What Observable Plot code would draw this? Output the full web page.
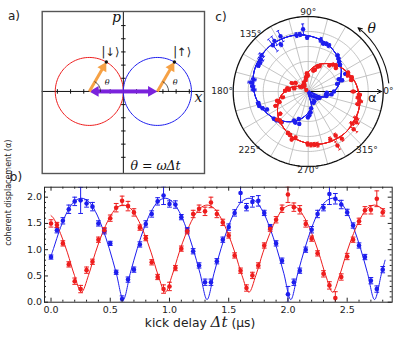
<!DOCTYPE html>
<html><head><meta charset="utf-8">
<script src="https://cdn.jsdelivr.net/npm/d3@7"></script>
<script src="https://cdn.jsdelivr.net/npm/@observablehq/plot@0.6"></script>
<style>
body{margin:0;background:#fff;}
#fig{position:relative;width:398px;height:341px;overflow:hidden;background:#fff;}
</style></head><body><div id="fig"></div>
<script>
// ---------- colours ----------
const RED = "#ee1d1d", BLUE = "#1d1dee", PURPLE = "#7a22dc", ORANGE = "#f6a145";

// ---------- panel b data ----------
const times = [0,0.05,0.1,0.15,0.2,0.25,0.3,0.35,0.4,0.45,0.5,0.55,0.6,0.65,0.7,0.75,0.8,0.85,0.9,0.95,1.0,1.05,1.1,1.15,1.2,1.25,1.3,1.35,1.4,1.45,1.5,1.55,1.6,1.65,1.7,1.75,1.8,1.85,1.9,1.95,2.0,2.05,2.1,2.15,2.2,2.25,2.3,2.35,2.4,2.45,2.5,2.55,2.6,2.65,2.7,2.75,2.8];
const blueVals = [0.86,1.37,1.55,1.77,1.92,1.94,1.88,1.82,1.50,1.35,1.12,0.57,0.06,0.43,0.62,1.10,1.49,1.68,1.92,2.03,1.87,1.86,1.62,1.37,0.97,0.70,0.38,0.38,0.78,1.19,1.43,1.70,2.08,1.81,1.91,1.93,1.70,1.43,1.12,0.79,0.15,0.38,0.60,1.00,1.38,1.68,1.80,2.06,1.97,1.86,1.71,1.46,1.08,0.86,0.41,0.25,0.62];
const blueErr  = [0.04,0.05,0.06,0.08,0.08,0.25,0.07,0.08,0.05,0.05,0.04,0.04,0.06,0.05,0.05,0.05,0.06,0.06,0.07,0.17,0.06,0.07,0.05,0.05,0.05,0.05,0.06,0.06,0.05,0.05,0.06,0.06,0.18,0.07,0.10,0.10,0.05,0.05,0.05,0.05,0.15,0.06,0.05,0.05,0.06,0.07,0.06,0.20,0.10,0.08,0.06,0.05,0.05,0.05,0.06,0.06,0.06];
const redVals  = [1.50,1.47,1.12,0.72,0.40,0.25,0.61,0.77,1.19,1.37,1.60,1.80,1.93,1.83,1.71,1.42,1.22,0.76,0.48,0.25,0.30,0.65,1.02,1.35,1.68,1.78,1.73,1.90,1.68,1.52,1.27,0.89,0.60,0.27,0.51,0.70,1.08,1.40,1.57,1.78,2.05,1.81,1.76,1.49,1.21,0.93,0.54,0.32,0.08,0.48,0.87,1.19,1.54,1.75,1.76,1.97,1.71];
const redErr   = [0.07,0.05,0.05,0.05,0.06,0.07,0.06,0.05,0.05,0.05,0.06,0.08,0.09,0.09,0.07,0.05,0.05,0.05,0.05,0.08,0.08,0.05,0.05,0.05,0.07,0.07,0.08,0.10,0.07,0.06,0.05,0.05,0.05,0.06,0.06,0.05,0.05,0.05,0.06,0.07,0.15,0.08,0.08,0.06,0.05,0.05,0.06,0.07,0.12,0.06,0.06,0.05,0.06,0.07,0.08,0.15,0.07];
// fitted curves
const fitT = [0,0.021,0.080,0.139,0.198,0.257,0.316,0.374,0.433,0.492,0.551,0.610,0.669,0.728,0.787,0.846,0.905,0.964,1.022,1.081,1.140,1.199,1.258,1.317,1.376,1.435,1.494,1.553,1.612,1.671,1.729,1.788,1.847,1.906,1.965,2.024,2.083,2.142,2.201,2.260,2.319,2.378,2.436,2.495,2.554,2.613,2.672,2.731,2.790,2.820];
const blueFit = [0.88,1.02,1.42,1.73,1.92,1.98,1.92,1.73,1.42,1.02,0.55,0.05,0.55,1.02,1.42,1.73,1.92,1.98,1.92,1.73,1.42,1.02,0.55,0.05,0.55,1.02,1.42,1.73,1.92,1.98,1.92,1.73,1.42,1.02,0.55,0.05,0.55,1.02,1.42,1.73,1.92,1.98,1.92,1.73,1.42,1.02,0.55,0.05,0.55,0.80];
const redFit  = [1.65,1.60,1.31,0.94,0.51,0.19,0.51,0.94,1.31,1.60,1.79,1.85,1.79,1.60,1.31,0.94,0.51,0.19,0.51,0.94,1.31,1.60,1.79,1.85,1.79,1.60,1.31,0.94,0.51,0.19,0.51,0.94,1.31,1.60,1.79,1.85,1.79,1.60,1.31,0.94,0.51,0.19,0.51,0.94,1.31,1.60,1.79,1.85,1.79,1.74];
const xMajorTicks = [0, 0.5, 1.0, 1.5, 2.0, 2.5];
const yMajorTicks = [0, 0.5, 1.0, 1.5, 2.0];
const xMinorTicks = [0.1,0.2,0.3,0.4,0.6,0.7,0.8,0.9,1.1,1.2,1.3,1.4,1.6,1.7,1.8,1.9,2.1,2.2,2.3,2.4,2.6,2.7,2.8];
const yMinorTicks = [0.1,0.2,0.3,0.4,0.6,0.7,0.8,0.9,1.1,1.2,1.3,1.4,1.6,1.7,1.8,1.9,2.1];

// ---------- panel c settings ----------
const polarPeriodUs = 0.707;           // theta = omega * dt
const ringRadii = [0.5, 1.0, 1.5, 2.0];
const outerRadius = 2.5;
const spokeDeg = [0,15,30,45,60,75,90,105,120,135,150,165,180,195,210,225,240,255,270,285,300,315,330,345];
const angleLabelDeg = [0, 90, 135, 180, 225, 270, 315];
const angleLabelR   = [2.67, 2.65, 2.72, 2.87, 2.77, 2.63, 2.77];

// ---------- panel a settings ----------
const aCircleR = 2.58;
const aCenters = [{x: -2.58, dir: -1, color: RED}, {x: 2.58, dir: 1, color: BLUE}];
const aThetaDeg = 60;
const aTicks = [-5,-4,-3,-2,-1,1,2,3,4,5];
const aStates = [{x: -0.97, y: 2.96, s: "|↓⟩"}, {x: 4.46, y: 2.96, s: "|↑⟩"}];

const rad = d => d * Math.PI / 180;
const fig = document.getElementById("fig");
const baseStyle = {position: "absolute", background: "transparent", overflow: "visible", fontFamily: "'DejaVu Sans', sans-serif", color: "#222"};

// ================= panel b =================
const ptsB = [
  ...times.map((t, i) => ({t, v: blueVals[i], e: blueErr[i], c: BLUE})),
  ...times.map((t, i) => ({t, v: redVals[i], e: redErr[i], c: RED}))
];
const fitsB = [
  ...fitT.map((t, i) => ({t, v: blueFit[i], c: BLUE})),
  ...fitT.map((t, i) => ({t, v: redFit[i], c: RED}))
];
const capB = 0.02;
const fH = 115, fW = 347.7;
const plotB = Plot.plot({
  width: 398, height: 166,
  marginLeft: 44, marginRight: 6.3, marginTop: 11.7, marginBottom: 39.3,
  x: {domain: [-0.055, 2.88]},
  y: {domain: [0, 2.19]},
  style: {...baseStyle, left: "0px", top: "175px"},
  marks: [
    Plot.line(fitsB, {x: "t", y: "v", z: "c", stroke: "c", strokeWidth: 1, curve: "catmull-rom", clip: true}),
    Plot.ruleX(ptsB, {x: "t", y1: d => d.v - d.e, y2: d => d.v + d.e, stroke: "c", strokeWidth: 1, clip: true}),
    Plot.link(ptsB, {x1: d => d.t - capB, x2: d => d.t + capB, y1: d => d.v + d.e, y2: d => d.v + d.e, stroke: "c", strokeWidth: 1, clip: true}),
    Plot.link(ptsB, {x1: d => d.t - capB, x2: d => d.t + capB, y1: d => d.v - d.e, y2: d => d.v - d.e, stroke: "c", strokeWidth: 1, clip: true}),
    Plot.dot(ptsB, {x: "t", y: "v", r: 2.3, fill: "c", clip: true}),
    Plot.frame({stroke: "#222", strokeWidth: 1}),
    Plot.tickX(xMajorTicks, {x: d => d, insetTop: fH - 4, stroke: "#222"}),
    Plot.tickX(xMajorTicks, {x: d => d, insetBottom: fH - 4, stroke: "#222"}),
    Plot.tickX(xMinorTicks, {x: d => d, insetTop: fH - 2, stroke: "#222"}),
    Plot.tickX(xMinorTicks, {x: d => d, insetBottom: fH - 2, stroke: "#222"}),
    Plot.tickY(yMajorTicks, {y: d => d, insetRight: fW - 4, stroke: "#222"}),
    Plot.tickY(yMajorTicks, {y: d => d, insetLeft: fW - 4, stroke: "#222"}),
    Plot.tickY(yMinorTicks, {y: d => d, insetRight: fW - 2, stroke: "#222"}),
    Plot.tickY(yMinorTicks, {y: d => d, insetLeft: fW - 2, stroke: "#222"}),
    Plot.axisX({ticks: xMajorTicks, tickSize: 0, tickPadding: 4, tickFormat: ".1f", fontSize: 9.5, label: null}),
    Plot.axisY({ticks: yMajorTicks, tickSize: 0, tickPadding: 2.5, tickFormat: ".1f", fontSize: 9.5, label: null}),
    Plot.text(["coherent displacement (α)"], {text: d => d, frameAnchor: "left", dx: -36, dy: 1, rotate: -90, fontSize: 8, fill: "#222"})
  ]
});
fig.appendChild(plotB);
{
  const xl = d3.select(plotB).append("text").attr("x", 200).attr("y", 152).attr("text-anchor", "middle")
    .attr("fill", "#222").style("font-family", "'DejaVu Sans', sans-serif").style("font-size", "12.3px");
  xl.append("tspan").text("kick delay ");
  xl.append("tspan").style("font-family", "'DejaVu Serif', serif").style("font-style", "italic").style("font-size", "15px").text("Δt");
  xl.append("tspan").text(" (μs)");
  d3.select(plotB).append("text").attr("x", 16).attr("y", 6).attr("fill", "#222")
    .style("font-family", "'DejaVu Sans', sans-serif").style("font-size", "12px").text("b)");
}

// ================= panel a =================
const aCirclePts = aCenters.flatMap(c => d3.range(0, 361, 3).map(deg => ({c: c.color, x: c.x + aCircleR * Math.cos(rad(deg)), y: aCircleR * Math.sin(rad(deg))})));
const tipX = c => c.x + aCircleR * Math.cos(rad(aThetaDeg));
const tipY = () => aCircleR * Math.sin(rad(aThetaDeg));
const arcA = 0.85, tickHalf = 0.17;
const purpleHead = 0.47, orangeHead = 0.45;   // tip-to-centre distance of the arrowheads (data units)
const plotA = Plot.plot({
  width: 215, height: 180,
  marginLeft: 41.7, marginRight: 11, marginTop: 11, marginBottom: 7,
  x: {domain: [-6.15, 6.15], axis: null},
  y: {domain: [-6.23, 6.07], axis: null},
  style: {...baseStyle, left: "0px", top: "0px"},
  marks: [
    Plot.ruleY([0], {stroke: "#111", strokeWidth: 1}),
    Plot.ruleX([0], {stroke: "#111", strokeWidth: 1}),
    Plot.link(aTicks, {x1: d => d, x2: d => d, y1: -tickHalf, y2: tickHalf, stroke: "#111"}),
    Plot.link(aTicks, {y1: d => d, y2: d => d, x1: -tickHalf, x2: tickHalf, stroke: "#111"}),
    Plot.line(aCirclePts, {x: "x", y: "y", z: "c", stroke: "c", strokeWidth: 1}),
    // purple displacement arrows
    Plot.link(aCenters, {x1: 0, y1: 0, x2: d => d.x - d.dir * purpleHead, y2: 0, stroke: PURPLE, strokeWidth: 4}),
    Plot.dot(aCenters, {x: d => d.x - d.dir * purpleHead, y: 0, symbol: "triangle", r: 4, fill: PURPLE, rotate: d => 90 * d.dir}),
    // orange spin arrows
    Plot.link(aCenters, {x1: "x", y1: 0, x2: d => tipX(d) - orangeHead * Math.cos(rad(aThetaDeg)), y2: d => tipY(d) - orangeHead * Math.sin(rad(aThetaDeg)), stroke: ORANGE, strokeWidth: 3}),
    Plot.dot(aCenters, {x: d => tipX(d) - orangeHead * Math.cos(rad(aThetaDeg)), y: d => tipY(d) - orangeHead * Math.sin(rad(aThetaDeg)), symbol: "triangle", r: 3.8, fill: ORANGE, rotate: 90 - aThetaDeg}),
    Plot.dot(aCenters, {x: tipX, y: tipY, r: 1.7, fill: "#111"}),
    Plot.arrow(aCenters, {x1: d => d.x + arcA, y1: 0, x2: d => d.x + arcA * Math.cos(rad(aThetaDeg)), y2: arcA * Math.sin(rad(aThetaDeg)), bend: -30, headLength: 0, stroke: "#111", strokeWidth: 0.7}),
    Plot.text(aCenters, {x: d => d.x + 1.35, y: 0.72, text: () => "θ", fontSize: 8, fontStyle: "italic", fontFamily: "'DejaVu Serif', serif", fill: "#111"}),
    Plot.text(aStates, {x: "x", y: "y", text: "s", fontSize: 11.5, fill: "#222"}),
    Plot.text(["p"], {x: -0.52, y: 5.62, text: d => d, fontSize: 14, fontStyle: "italic", fontFamily: "'DejaVu Serif', serif", fill: "#111"}),
    Plot.text(["x"], {x: 5.69, y: -0.46, text: d => d, fontSize: 14, fontStyle: "italic", fontFamily: "'DejaVu Serif', serif", fill: "#111"}),
    Plot.text(["θ = ωΔt"], {x: 2.44, y: -5.67, text: d => d, fontSize: 12.5, fontStyle: "italic", fontFamily: "'DejaVu Serif', serif", fill: "#111"}),
    Plot.frame({stroke: "#555", strokeWidth: 1.4})
  ]
});
fig.appendChild(plotA);
d3.select(plotA).append("text").attr("x", 14).attr("y", 20).attr("fill", "#222")
  .style("font-family", "'DejaVu Sans', sans-serif").style("font-size", "12px").text("a)");

// ================= panel c =================
const angOf = t => 2 * Math.PI * t / polarPeriodUs;
const ptsC = ptsB.map(d => { const a = angOf(d.t); return {...d, ca: Math.cos(a), sa: Math.sin(a)}; });
const fitsC = fitsB.map(d => { const a = angOf(d.t); return {...d, x: d.v * Math.cos(a), y: d.v * Math.sin(a)}; });
const ringPts = ringRadii.flatMap(r => d3.range(0, 361, 2).map(deg => ({r, x: r * Math.cos(rad(deg)), y: r * Math.sin(rad(deg))})));
const outerPts = d3.range(0, 361, 2).map(deg => ({x: outerRadius * Math.cos(rad(deg)), y: outerRadius * Math.sin(rad(deg))}));
const capC = 0.05, arcR = 2.7;
const plotC = Plot.plot({
  width: 198, height: 180,
  marginLeft: 2.7, marginRight: 0.3, marginTop: 2.5, marginBottom: 0.5,
  x: {domain: [-3.5, 3.0], axis: null},
  y: {domain: [-2.95, 2.95], axis: null},
  style: {...baseStyle, left: "200px", top: "0px"},
  marks: [
    Plot.line(ringPts, {x: "x", y: "y", z: "r", stroke: "#b5b5b5", strokeWidth: 0.8}),
    Plot.link(spokeDeg, {x1: 0, y1: 0, x2: d => outerRadius * Math.cos(rad(d)), y2: d => outerRadius * Math.sin(rad(d)), stroke: "#b5b5b5", strokeWidth: 0.8}),
    Plot.line(outerPts, {x: "x", y: "y", stroke: "#111", strokeWidth: 1.3}),
    Plot.arrow([0], {x1: 0, y1: 0, x2: 2.45, y2: 0, stroke: "#111", strokeWidth: 1, headLength: 7, headAngle: 50}),
    Plot.line(fitsC, {x: "x", y: "y", z: "c", stroke: "c", strokeWidth: 1, curve: "catmull-rom"}),
    Plot.link(ptsC, {x1: d => Math.max(d.v - d.e, 0) * d.ca, y1: d => Math.max(d.v - d.e, 0) * d.sa, x2: d => (d.v + d.e) * d.ca, y2: d => (d.v + d.e) * d.sa, stroke: "c", strokeWidth: 1}),
    Plot.link(ptsC, {x1: d => (d.v + d.e) * d.ca - capC * d.sa, y1: d => (d.v + d.e) * d.sa + capC * d.ca, x2: d => (d.v + d.e) * d.ca + capC * d.sa, y2: d => (d.v + d.e) * d.sa - capC * d.ca, stroke: "c", strokeWidth: 1}),
    Plot.link(ptsC, {x1: d => (d.v - d.e) * d.ca - capC * d.sa, y1: d => (d.v - d.e) * d.sa + capC * d.ca, x2: d => (d.v - d.e) * d.ca + capC * d.sa, y2: d => (d.v - d.e) * d.sa - capC * d.ca, stroke: "c", strokeWidth: 1}),
    Plot.dot(ptsC, {x: d => d.v * d.ca, y: d => d.v * d.sa, r: 2.2, fill: "c"}),
    Plot.text(angleLabelDeg.map((d, i) => ({d, r: angleLabelR[i]})), {x: d => d.r * Math.cos(rad(d.d)), y: d => d.r * Math.sin(rad(d.d)), text: d => d.d + "°", fontSize: 9, fill: "#222"}),
    Plot.text(["α"], {x: 2.14, y: -0.2, text: d => d, fontSize: 13, fill: "#111"}),
    Plot.arrow([0], {x1: arcR * Math.cos(rad(6)), y1: arcR * Math.sin(rad(6)), x2: arcR * Math.cos(rad(52)), y2: arcR * Math.sin(rad(52)), bend: -23, headLength: 6, headAngle: 50, stroke: "#111", strokeWidth: 1.1}),
    Plot.text(["θ"], {x: 2.12, y: 2.1, text: d => d, fontSize: 14, fontStyle: "italic", fontFamily: "'DejaVu Serif', serif", fill: "#111"})
  ]
});
fig.appendChild(plotC);
d3.select(plotC).append("text").attr("x", 21).attr("y", 21).attr("fill", "#222")
  .style("font-family", "'DejaVu Sans', sans-serif").style("font-size", "12px").text("c)");
</script></body></html>
